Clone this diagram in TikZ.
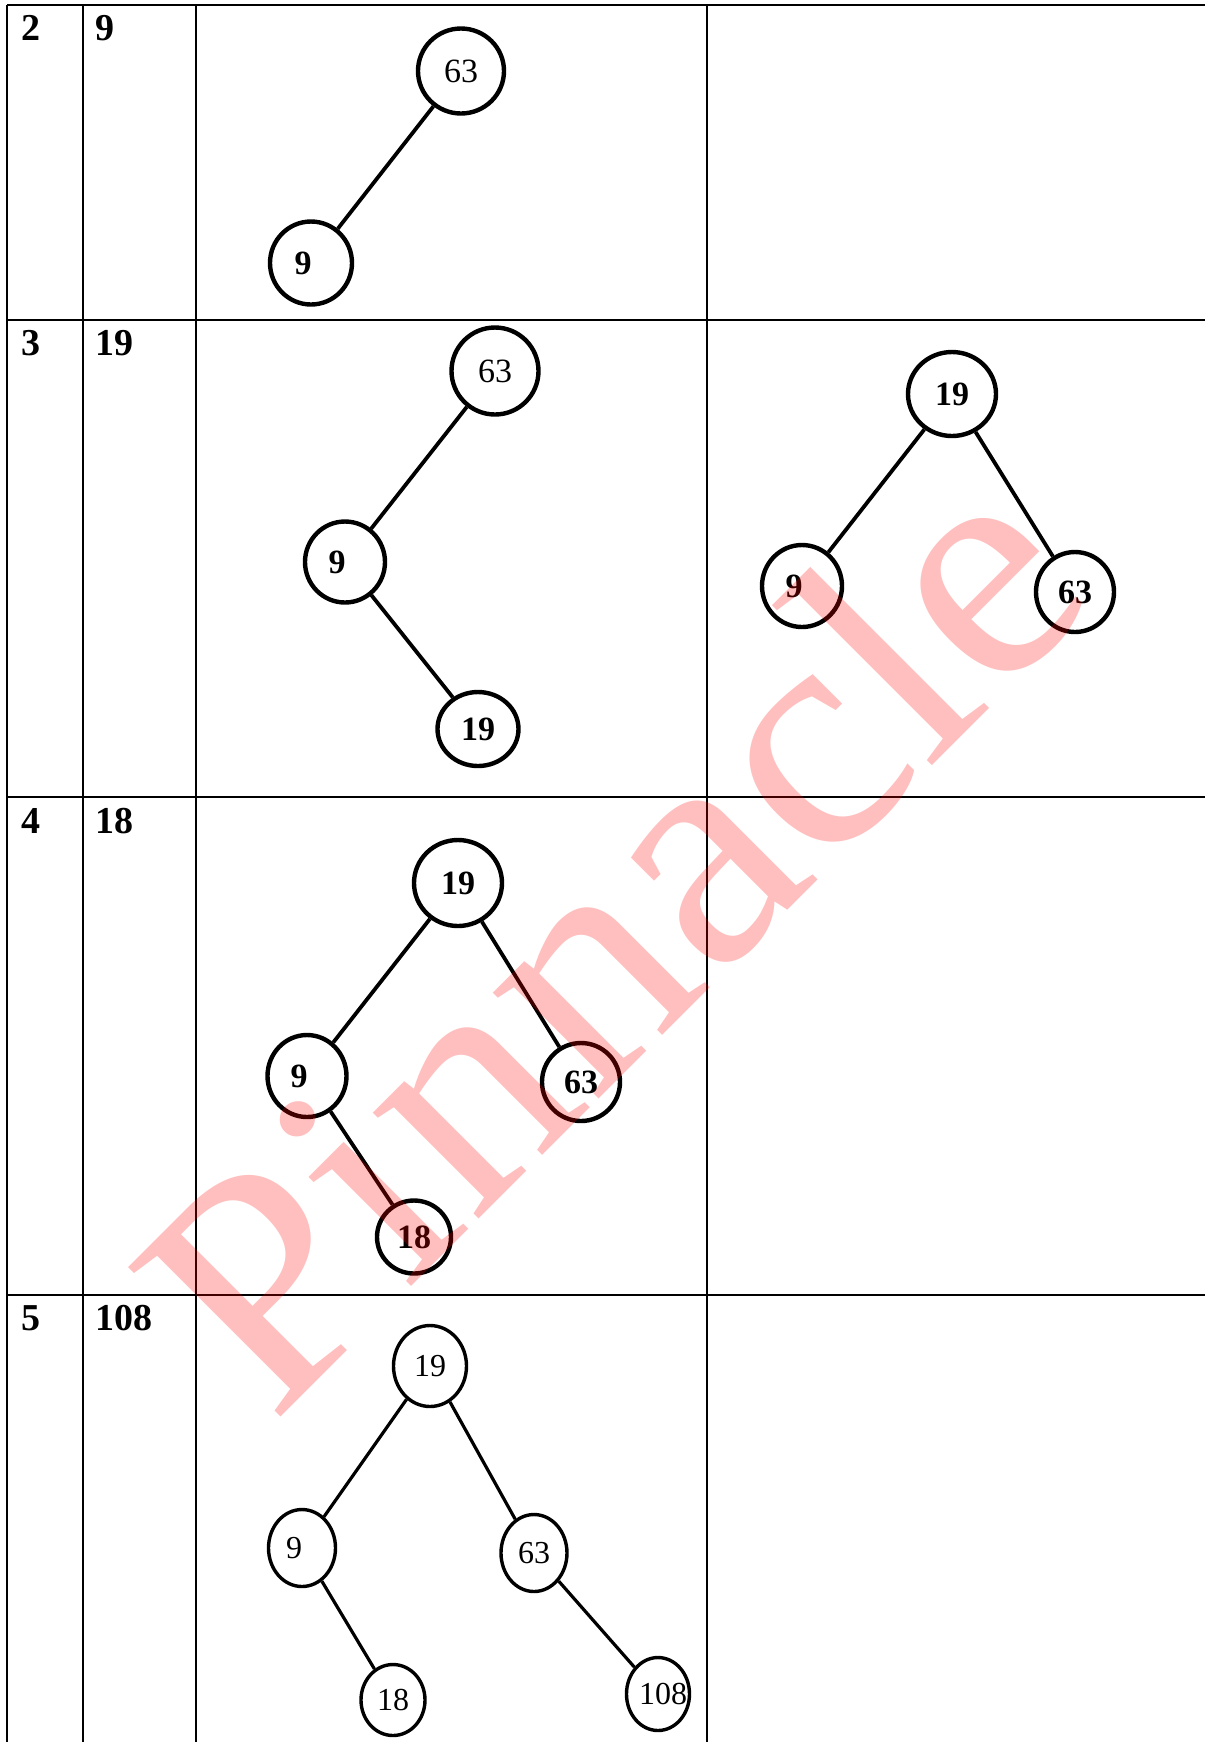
\documentclass[tikz,border=0pt]{standalone}
\usepackage{fontspec}
\setmainfont{Liberation Serif}
\usetikzlibrary{shapes.geometric}
\newcommand\nfont{\fontsize{17pt}{20pt}\selectfont}
\newcommand\mfont{\fontsize{16pt}{19pt}\selectfont}
\newcommand\lfont{\fontsize{19pt}{22pt}\selectfont\bfseries}
\newcommand\wmfont{\fontsize{163pt}{163pt}\selectfont}
\begin{document}
\begin{tikzpicture}[x=0.5pt,y=-0.5pt,
  tline/.style={line width=0.85pt},
  bn/.style 2 args={ellipse, draw, line width=2.2pt, inner sep=0pt, minimum width=#1, minimum height=#2, font=\nfont\bfseries},
  rn/.style 2 args={ellipse, draw, line width=2.2pt, inner sep=0pt, minimum width=#1, minimum height=#2, font=\nfont},
  sn/.style 2 args={ellipse, draw, line width=1.7pt, inner sep=0pt, minimum width=#1, minimum height=#2, font=\mfont},
  link/.style={line width=1.9pt},
  thinlink/.style={line width=1.6pt},
  lab/.style={anchor=base west, inner sep=0pt, font=\lfont}]
\fill[white] (0,0) rectangle (1205,1742);
\useasboundingbox (0,0) rectangle (1205,1742);

% table rules
\draw[tline] (7,5) -- (1205,5);
\draw[tline] (7,320) -- (1205,320);
\draw[tline] (7,797) -- (1205,797);
\draw[tline] (7,1295) -- (1205,1295);
\draw[tline] (7,5) -- (7,1742);
\draw[tline] (83,5) -- (83,1742);
\draw[tline] (196,5) -- (196,1742);
\draw[tline] (707,5) -- (707,1742);

% row labels
\node[lab] (r1a) at (21,40) {2};
\node[lab] (r1b) at (95,40) {9};
\node[lab] (r2a) at (21,355) {3};
\node[lab] (r2b) at (95,355) {19};
\node[lab] (r3a) at (21,833) {4};
\node[lab] (r3b) at (95,833) {18};
\node[lab] (r4a) at (21,1330) {5};
\node[lab] (r4b) at (95,1330) {108};

% row 1
\node[rn={43pt}{42.5pt}] (a63) at (461,71) {\makebox[0pt]{63}};
\node[bn={41pt}{41.5pt}] (a9) at (311,263) {\makebox[0pt]{9\kern8pt}};
\draw[link] (a63) -- (a9);

% row 2, middle
\node[rn={43.5pt}{43.5pt}] (b63) at (495,371) {\makebox[0pt]{63}};
\node[bn={40pt}{40.5pt}] (b9) at (345,562) {\makebox[0pt]{9\kern8pt}};
\node[bn={40.5pt}{37pt}] (b19) at (478,729) {\makebox[0pt]{19}};
\draw[link] (b63) -- (b9);
\draw[link] (b9) -- (b19);

% row 2, right
\node[bn={44pt}{42pt}] (c19) at (952,394) {\makebox[0pt]{19}};
\node[bn={40pt}{41pt}] (c9) at (802,586) {\makebox[0pt]{9\kern8pt}};
\node[bn={39pt}{40pt}] (c63) at (1075,592) {\makebox[0pt]{63}};
\draw[link] (c19) -- (c9);
\draw[link] (c19) -- (c63);

% row 3
\node[bn={44pt}{43pt}] (d19) at (458,883) {\makebox[0pt]{19}};
\node[bn={39.5pt}{41pt}] (d9) at (307,1076) {\makebox[0pt]{9\kern8pt}};
\node[bn={39pt}{39pt}] (d63) at (581,1082) {\makebox[0pt]{63}};
\node[bn={37pt}{36.5pt}] (d18) at (414,1237) {\makebox[0pt]{18}};
\draw[link] (d19) -- (d9);
\draw[link] (d19) -- (d63);
\draw[link] (d9) -- (d18);

% row 4
\node[sn={36.5pt}{40.5pt}] (e19) at (430,1366) {\makebox[0pt]{19}};
\node[sn={33.5pt}{38.5pt}] (e9) at (302,1548) {\makebox[0pt]{9\kern8pt}};
\node[sn={33pt}{38.5pt}] (e63) at (534,1553) {\makebox[0pt]{63}};
\node[sn={32pt}{35.5pt}] (e18) at (393,1700) {\makebox[0pt]{18}};
\node[sn={31.5pt}{36.5pt}] (e108) at (658,1694) {\makebox[0pt]{\kern5pt108}};
\draw[thinlink] (e19) -- (e9);
\draw[thinlink] (e19) -- (e63);
\draw[thinlink] (e9) -- (e18);
\draw[thinlink] (e63) -- (e108);

% watermark
\node[rotate=45, xscale=1.045, anchor=base west, inner sep=0pt, text=red, text opacity=0.25, font=\wmfont] (wm) at (272,1426) {Pinnacle};
\end{tikzpicture}
\end{document}
